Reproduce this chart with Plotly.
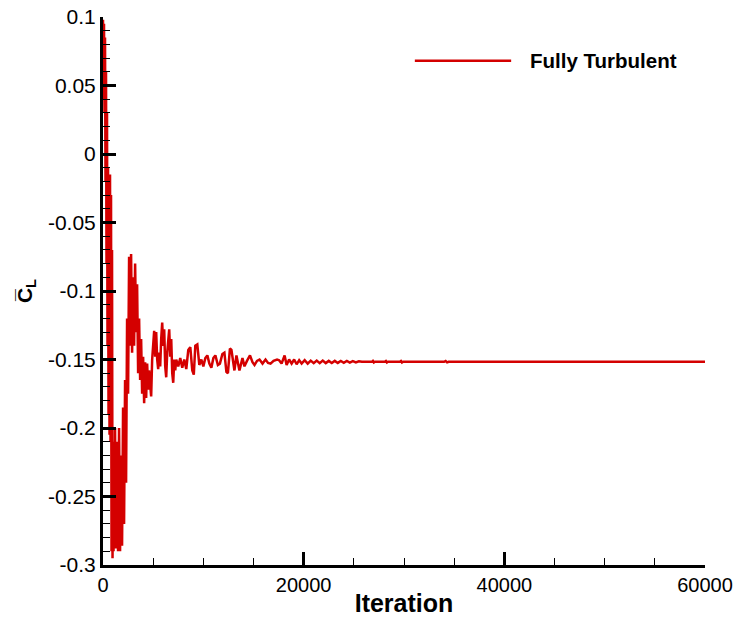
import plotly.graph_objects as go

iterations = [
    0, 50, 100, 150, 200, 250, 300, 350, 400, 450, 500, 550, 600, 650, 700, 750, 800, 850, 900, 950,
    1000, 1050, 1100, 1150, 1200, 1300, 1400, 1500, 1600, 1700, 1800, 1900, 2000, 2100, 2200, 2300,
    2400, 2500, 2600, 2700, 2800, 2900, 3000, 3100, 3200, 3300, 3400, 3500, 3600, 3700, 3800, 3900,
    4000, 4100, 4200, 4300, 4400, 4500, 4600, 4700, 4800, 4900, 5000, 5100, 5200, 5300, 5400, 5500,
    5600, 5700, 5800, 5900, 6000, 6100, 6200, 6300, 6400, 6500, 6600, 6700, 6800, 6900, 7000, 7100,
    7200, 7300, 7500, 7700, 7900, 8100, 8300, 8500, 8700, 8900, 9050, 9200, 9400, 9600, 9800, 10000,
    10200, 10400, 10600, 10800, 11000, 11200, 11450, 11650, 11900, 12100, 12300, 12450, 12650, 12800,
    13100, 13300, 13600, 13900, 14100, 14350, 14650, 14900, 15100, 15350, 15600, 15900, 16200, 16450,
    16700, 17000, 17350, 17550, 17800, 18100, 18300, 18550, 18800, 19050, 19300, 19550, 19800, 20100,
    20400, 20700, 21000, 21300, 21600, 21900, 22200, 22500, 22800, 23100, 23400, 23700, 24000, 24300,
    24600, 24900, 25200, 25500, 25800, 26800, 26900, 27000, 27100, 28100, 28200, 28300, 28400, 29600,
    29700, 29800, 29900, 34000, 34150, 34300, 34450, 60000,
]

cl_mean = [
    0.098, 0.04, 0.095, 0.03, 0.085, -0.02, 0.06, -0.08, 0.03, -0.14, -0.01, -0.19, -0.02, -0.205,
    -0.015, -0.21, -0.03, -0.29, -0.07, -0.295,
    -0.21, -0.29, -0.215, -0.285, -0.20, -0.288, -0.21, -0.29, -0.20, -0.29, -0.22, -0.286, -0.185,
    -0.27, -0.165, -0.24,
    -0.12, -0.175, -0.075, -0.14, -0.073, -0.145, -0.09, -0.14, -0.08, -0.13, -0.095, -0.16, -0.12,
    -0.165, -0.135, -0.175,
    -0.148, -0.182, -0.152, -0.178, -0.153, -0.172, -0.158, -0.168, -0.177, -0.15, -0.14, -0.129,
    -0.148, -0.13, -0.15, -0.157,
    -0.145, -0.155, -0.135, -0.123, -0.14, -0.128, -0.155, -0.163, -0.145, -0.132, -0.128, -0.148,
    -0.135, -0.16, -0.167, -0.15,
    -0.158, -0.15, -0.155, -0.149, -0.156, -0.15, -0.157, -0.143, -0.141, -0.158, -0.161, -0.14,
    -0.139, -0.154, -0.15, -0.155,
    -0.149, -0.147, -0.153, -0.156, -0.149, -0.147, -0.154, -0.153, -0.146, -0.145, -0.159, -0.16,
    -0.142, -0.143,
    -0.158, -0.147, -0.158, -0.149, -0.155, -0.151, -0.147, -0.152, -0.154, -0.151, -0.150, -0.153,
    -0.150, -0.1525,
    -0.153, -0.151, -0.150, -0.1505, -0.153, -0.147, -0.154, -0.150, -0.153, -0.150, -0.1535, -0.1505,
    -0.1530, -0.1505,
    -0.1530, -0.1508, -0.1527, -0.1508, -0.1527, -0.1508, -0.1526, -0.1510, -0.1525, -0.1510, -0.1525,
    -0.1511, -0.1524, -0.1511,
    -0.1523, -0.1512, -0.1522, -0.1513, -0.1517, -0.1517, -0.1510, -0.1522, -0.1517, -0.1517, -0.1511,
    -0.1522, -0.1517, -0.1517,
    -0.1511, -0.1522, -0.1517, -0.1517, -0.1511, -0.1521, -0.1517, -0.1517,
]

y_tick_vals = [0.1, 0.05, 0, -0.05, -0.1, -0.15, -0.2, -0.25, -0.3]
y_tick_text = ["0.1", "0.05", "0", "-0.05", "-0.1", "-0.15", "-0.2", "-0.25", "-0.3"]
x_tick_vals = [0, 20000, 40000, 60000]
x_tick_text = ["0", "20000", "40000", "60000"]

series_name = "Fully Turbulent"
line_color = "#D40000"

fig = go.Figure()
fig.add_trace(go.Scatter(
    x=iterations, y=cl_mean, mode="lines", name=series_name,
    line=dict(color=line_color, width=2.5), showlegend=False,
))

font_family = "Liberation Sans, Arial, sans-serif"

fig.update_layout(
    width=735, height=618,
    margin=dict(l=103, r=30, t=17, b=53, autoexpand=False),
    paper_bgcolor="white", plot_bgcolor="white",
    font=dict(family=font_family, color="black", size=20),
    xaxis=dict(
        range=[0, 60000], tickmode="array", tickvals=x_tick_vals, ticktext=x_tick_text,
        ticks="inside", ticklen=13, tickwidth=2.5, tickcolor="black",
        showline=True, linecolor="black", linewidth=3, mirror=False,
        showgrid=False, zeroline=False, automargin=False, ticklabeloverflow="allow",
        minor=dict(tickmode="linear", tick0=0, dtick=5000, ticks="inside", ticklen=7,
                   tickwidth=1.2, tickcolor="black", showgrid=False),
        tickfont=dict(size=20, family=font_family),
        title=dict(text="<b>Iteration</b>", font=dict(size=25, family=font_family), standoff=0),
    ),
    yaxis=dict(
        range=[-0.3, 0.1], tickmode="array", tickvals=y_tick_vals, ticktext=y_tick_text,
        ticks="inside", ticklen=13, tickwidth=2.5, tickcolor="black",
        showline=True, linecolor="black", linewidth=3, mirror=False,
        showgrid=False, zeroline=False, automargin=False, ticklabeloverflow="allow",
        minor=dict(tickmode="linear", tick0=0, dtick=0.01, ticks="inside", ticklen=7,
                   tickwidth=1.2, tickcolor="black", showgrid=False),
        tickfont=dict(size=21, family=font_family),
        title=dict(text="<b>C\u0305<sub>L</sub></b>", font=dict(size=21, family=font_family), standoff=10),
    ),
)

# legend drawn as a line sample and label
fig.add_shape(type="line", xref="paper", yref="paper", x0=0.518, x1=0.678, y0=0.920, y1=0.920,
              line=dict(color=line_color, width=2.5))
fig.add_annotation(xref="paper", yref="paper", x=0.706, y=0.920, xanchor="left", yanchor="middle",
                   text="<b>" + series_name + "</b>", showarrow=False,
                   font=dict(size=20.5, family=font_family, color="black"))

# remove the browser's default page margin so the figure fills the window exactly
fig.write_html("out.html", config={"displayModeBar": False},
               post_script="document.body.style.margin='0px';")
